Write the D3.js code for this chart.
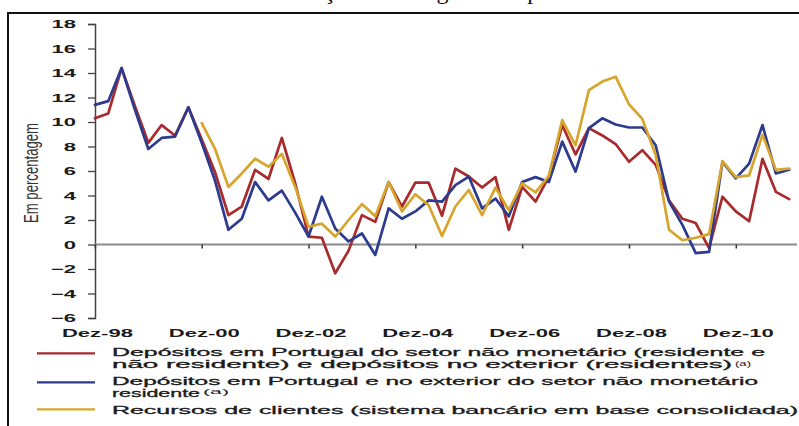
<!DOCTYPE html>
<html><head><meta charset="utf-8">
<script src="https://cdn.jsdelivr.net/npm/d3@7"></script>
<style>
html,body{margin:0;padding:0;background:#fff;}
svg{display:block;font-family:"Liberation Sans",Arial,sans-serif;}
</style></head>
<body>
<script>
// ---- data ----
const quarterMonths = ["Mar","Jun","Set","Dez"];
const quarters = ["Dez-98"];
for (let y = 1999; y <= 2011; y++) for (const m of quarterMonths) quarters.push(m + "-" + String(y).slice(2));

const xTickLabels = ["Dez-98","Dez-00","Dez-02","Dez-04","Dez-06","Dez-08","Dez-10"];
const yTicks = [-6,-4,-2,0,2,4,6,8,10,12,14,16,18];

const depPortugalResNaoRes = [10.3,10.7,14.4,11.3,8.3,9.75,8.9,11.2,8.6,5.9,2.4,3.1,6.1,5.35,8.7,5.0,0.65,0.55,-2.35,-0.5,2.4,1.85,5.1,3.1,5.05,5.05,2.35,6.2,5.55,4.65,5.5,1.2,4.7,3.5,5.55,9.75,7.35,9.5,8.9,8.2,6.75,7.7,6.5,3.6,2.1,1.75,-0.3,3.9,2.7,1.9,7.0,4.3,3.7];
const depPortugalExterior = [11.4,11.7,14.4,11.0,7.8,8.7,8.8,11.2,8.3,5.2,1.2,2.1,5.1,3.6,4.4,2.6,0.65,3.9,1.3,0.25,0.9,-0.85,2.95,2.1,2.7,3.6,3.5,4.85,5.55,2.95,3.75,2.3,5.1,5.5,5.1,8.4,5.95,9.5,10.3,9.8,9.55,9.55,8.1,3.5,1.6,-0.7,-0.6,6.75,5.4,6.6,9.75,5.8,6.1];
const recursosClientes = [null,null,null,null,null,null,null,null,9.9,7.8,4.7,5.8,7.0,6.35,7.4,4.7,1.45,1.7,0.65,2.0,3.3,2.3,5.1,2.7,4.1,3.2,0.7,3.1,4.45,2.4,4.65,2.8,5.0,4.25,5.6,10.15,8.1,12.6,13.3,13.7,11.45,10.25,7.3,1.2,0.35,0.55,0.85,6.8,5.5,5.65,8.95,6.1,6.2];

const seriesNames = [
  ["Depósitos em Portugal do setor não monetário (residente e", "não residente) e depósitos no exterior (residentes)"],
  ["Depósitos em Portugal e no exterior do setor não monetário", "residente"],
  ["Recursos de clientes (sistema bancário em base consolidada)"]
];
const seriesColors = ["#a82a2c","#2d3b8e","#d8a52c"];
const titleText = "Taxa de variação homóloga dos depósitos";
const yAxisTitle = "Em percentagem";

// ---- drawing ----
const W = 799, H = 426;
const svg = d3.select("body").append("svg").attr("width", W).attr("height", H);

const x = d3.scalePoint().domain(quarters).range([94.9, 789.2]);
const y = d3.scaleLinear().domain([-6, 18]).range([318, 24]);

// cut-off title (only its lowest part is visible, as in the reference)
svg.append("text").attr("x", 195).attr("y", -1)
  .attr("font-family", "'Liberation Serif','Times New Roman',serif")
  .attr("font-size", 24).attr("fill", "#111").text(titleText);

// frame
svg.append("path").attr("d", `M8,426 L8,13 L799,13`).attr("fill", "none")
  .attr("stroke", "#111").attr("stroke-width", 2);

// y axis
const yAxis = svg.append("g").attr("transform", "translate(95,0)")
  .call(d3.axisLeft(y).tickValues(yTicks).tickSize(7).tickSizeOuter(7).tickFormat(d3.format("d")));
yAxis.select(".domain").attr("stroke", "#444").attr("stroke-width", 1.5);
yAxis.selectAll(".tick line").attr("stroke", "#444").attr("stroke-width", 1.3);
yAxis.selectAll(".tick text").attr("x", 0).attr("dy", "0.36em")
  .attr("transform", "translate(-19,0) scale(2,1)")
  .attr("font-size", 11).attr("font-family", "'Liberation Sans',Arial,sans-serif")
  .attr("fill", "#1a1a1a").attr("font-weight", "bold");

// y axis title
svg.append("text").attr("transform", "translate(31,173) scale(1.6,1) rotate(-90)")
  .attr("text-anchor", "middle").attr("dominant-baseline", "central")
  .attr("font-size", 13).attr("fill", "#333")
  .attr("textLength", 100).attr("lengthAdjust", "spacingAndGlyphs").text(yAxisTitle);

// zero line + ticks
const xAxisZero = svg.append("g").attr("transform", `translate(0,${y(0)})`)
  .call(d3.axisBottom(x).tickValues(xTickLabels).tickSize(4).tickSizeOuter(0).tickFormat(""));
xAxisZero.select(".domain").attr("d", `M95,0H797`).attr("stroke", "#8a8a8a").attr("stroke-width", 2);
xAxisZero.selectAll(".tick line").attr("stroke", "#333").attr("stroke-width", 1.5);

// x labels
const xLab = svg.append("g").attr("transform", "translate(0,337)")
  .call(d3.axisBottom(x).tickValues(xTickLabels).tickSize(0).tickSizeOuter(0));
xLab.select(".domain").remove();
xLab.selectAll(".tick text").attr("y", 0).attr("dy", 0)
  .attr("transform", "translate(2,0) scale(1.95,1)")
  .attr("text-anchor", "middle")
  .attr("font-size", 11.3).attr("font-family", "'Liberation Sans',Arial,sans-serif")
  .attr("fill", "#1a1a1a").attr("font-weight", "bold");

// lines
const line = d3.line().defined(d => d.v !== null).x(d => x(d.q)).y(d => y(d.v));
const allSeries = [depPortugalResNaoRes, depPortugalExterior, recursosClientes];
allSeries.forEach((s, i) => {
  svg.append("path").datum(s.map((v, k) => ({q: quarters[k], v})))
    .attr("d", line).attr("fill", "none").attr("stroke", seriesColors[i])
    .attr("stroke-width", 2.7).attr("stroke-linejoin", "round").attr("stroke-linecap", "round");
});

// legend: one text element per entry, lines as tspans
const legendLineY = [353.3, 382.3, 409.3];
const legendRows = [
  [{t: seriesNames[0][0], y: 356.3, len: 653}, {t: seriesNames[0][1], y: 368.3, len: 620, sup: {x: 735, len: 16}}],
  [{t: seriesNames[1][0], y: 384.8, len: 646}, {t: seriesNames[1][1], y: 396.8, len: 88, sup: {x: 203, len: 26}}],
  [{t: seriesNames[2][0], y: 414, len: 686}]
];
legendRows.forEach((rows, i) => {
  svg.append("line").attr("x1", 37).attr("x2", 95).attr("y1", legendLineY[i]).attr("y2", legendLineY[i])
    .attr("stroke", seriesColors[i]).attr("stroke-width", 2.2);
  const txt = svg.append("text").attr("font-size", 10.5)
    .attr("fill", "#1a1a1a").attr("stroke", "#1a1a1a").attr("stroke-width", 0.3);
  rows.forEach(r => {
    txt.append("tspan").attr("x", 112).attr("y", r.y)
      .attr("textLength", r.len).attr("lengthAdjust", "spacingAndGlyphs").text(r.t);
    if (r.sup) {
      txt.append("tspan").attr("x", r.sup.x).attr("y", r.y - 2.5).attr("font-size", 6.5)
        .attr("stroke-width", 0)
        .attr("textLength", r.sup.len).attr("lengthAdjust", "spacingAndGlyphs").text("(a)");
    }
  });
});
</script>
</body></html>
